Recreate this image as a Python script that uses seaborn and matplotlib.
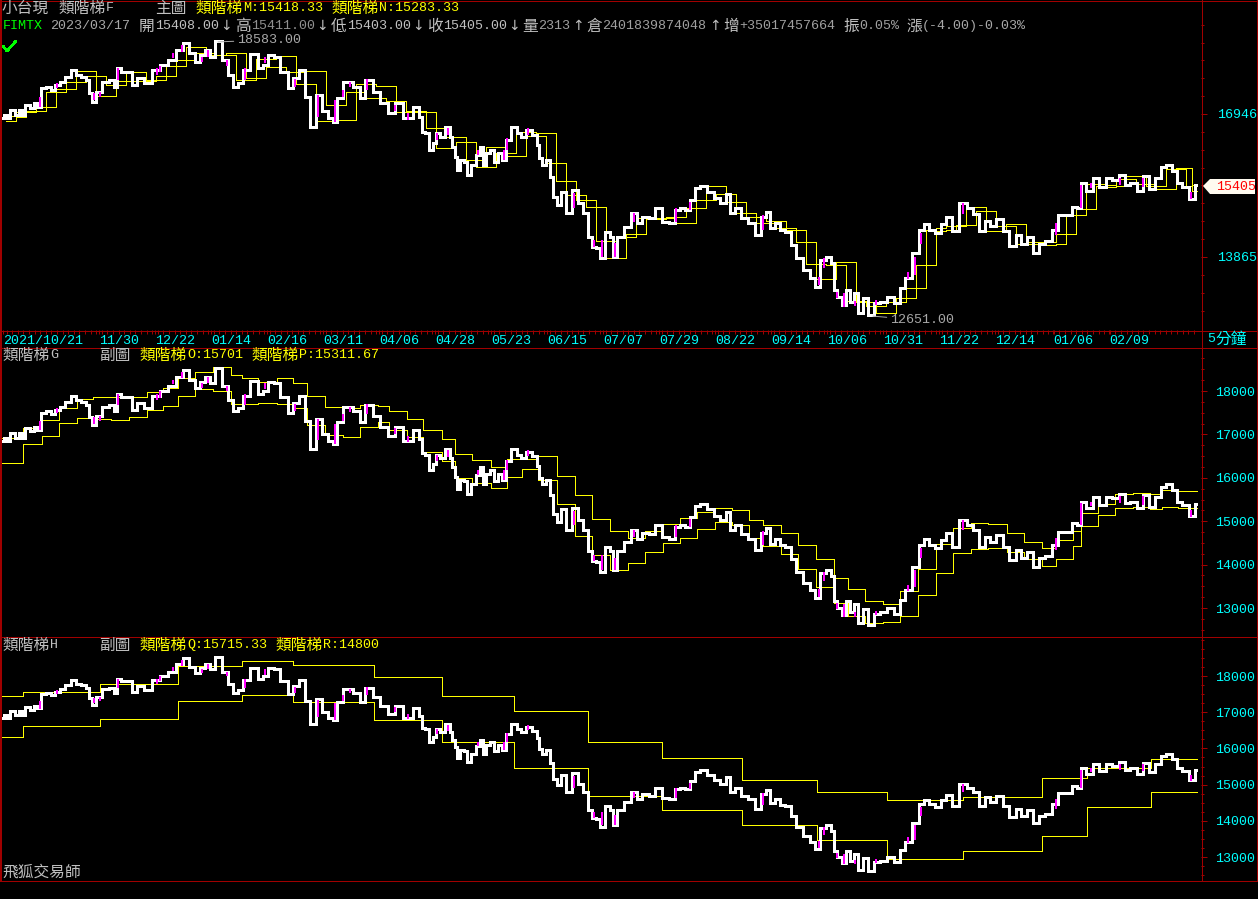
import matplotlib
matplotlib.use("Agg")
import matplotlib.pyplot as plt
import seaborn as sns
from matplotlib.lines import Line2D
from matplotlib.patches import Polygon
from matplotlib.ticker import FixedLocator

# ------------------------------------------------------------------ data
bar_x = [2,5,8,12,17,20,23,27,32,35,38,43,48,53,57,62,68,73,78,83,88,90,94,98,105,112,115,118,123,130,133,140,147,157,163,172,180,185,192,197,202,208,212,218,225,230,235,240,245,255,260,265,270,277,282,285,290,295,302,307,313,318,325,330,335,338,348,357,362,368,377,383,392,398,407,418,
420,423,427,431,434,437,442,448,451,453,456,458,462,465,469,473,478,482,484,488,491,496,500,504,507,515,518,523,528,535,538,540,543,548,551,555,559,563,568,575,580,585,590,594,598,602,607,612,614,620,627,635,638,645,652,658,665,673,
677,682,688,692,697,703,710,717,723,728,732,738,743,752,758,763,768,772,777,782,788,793,798,807,812,817,823,828,833,834,840,844,847,852,855,860,865,871,877,883,890,897,902,908,
915,922,925,932,938,943,948,955,963,970,975,982,987,992,1000,1005,1013,1018,1023,1030,1035,1042,1048,1055,1060,1070,1073,1080,1081,1090,1095,1103,1108,1115,1122,1127,1133,1140,1145,1152,1158,1163,1168,1175,1178,1185,1192,1197]
close = [16853,16925,16853,17033,16925,17033,16925,17140,17068,17176,17104,17499,17535,17464,17571,17643,17751,17895,17787,17751,17679,17392,17212,17428,17643,17679,17535,17930,17859,17859,17571,17715,17607,17895,18002,18110,18326,18484,18254,18074,18218,18326,18182,18527,18110,17787,17535,17607,17895,18232,17930,18002,18218,18182,17859,17859,17499,17715,17895,17320,16673,17355,17000,16853,16780,17284,17643,17535,17284,17679,17428,17176,16961,17176,16853,17104,
16889,16566,16530,16171,16314,16530,16458,16673,16458,16242,16027,15740,15955,15919,15632,15847,16063,16242,15847,16099,16171,15919,16099,15955,16386,16673,16530,16458,16601,16494,16278,15991,15847,15955,15596,15165,14985,15273,14806,15309,15021,14806,14303,14087,14052,13836,14411,14303,13872,14303,14518,14806,14590,14734,14698,14913,14626,14590,
14877,14913,14877,15092,15344,15401,15272,15128,15021,15222,14805,14913,14697,14590,14338,14733,14841,14482,14590,14446,14410,14123,13836,13584,13404,13225,13800,13871,13728,13153,13009,12830,13153,12902,13081,12650,12973,12614,12866,12902,13009,12866,13189,13404,
13953,14452,14583,14452,14375,14567,14721,14414,15028,14913,14798,14414,14644,14529,14682,14414,14106,14337,14145,14298,13953,14145,14199,14452,14759,14759,14951,14913,15450,15297,15566,15374,15566,15527,15627,15412,15450,15297,15604,15335,15566,15796,15857,15719,15450,15374,15120,15405]

pink_x = [40,57,94,100,118,157,160,173,182,202,208,227,245,265,295,318,335,343,350,367,395,408,437,448,478,504,507,528,574,594,602,615,634,676,690,763,819,824,837,844,855,876,908,915,921,963,1056,1081,1091,1120,1143,1191]
pink_low = [17100,17500,17250,17320,17680,17790,17850,18150,18290,18070,18180,17990,17680,18040,17530,16880,16780,17320,17520,17470,17000,16820,16390,16490,16063,15955,16170,16500,14913,14090,13872,13872,14626,14626,14877,14446,13261,13620,12980,12794,12800,12830,13400,13476,14145,14798,14337,14913,15350,15410,15370,15105]
pink_high = [17320,17610,17390,17430,17930,17930,17990,18260,18430,18180,18330,18110,17930,18180,17710,17350,17250,17470,17640,17710,17140,16960,16530,16640,16170,16170,16420,16640,15237,14230,14230,14160,14806,14913,15057,14770,13440,13840,13120,13081,12910,12940,13540,13871,14375,15028,14606,15412,15450,15570,15570,15260]

ladder_a_x = [6,16,26,36,46,56,66,76,86,96,106,116,126,136,146,156,166,176,186,196,206,216,226,236,246,256,266,276,286,296,306,316,326,336,346,356,366,376,386,396,406,416,426,436,446,456,466,476,486,496,506,516,526,536,546,556,566,576,586,596,606,616,626,636,646,656,666,676,686,696,706,716,726,736,746,756,766,776,786,796,806,816,826,836,846,856,866,876,886,896,906,916,926,936,946,956,966,976,986,996,1006,1016,1026,1036,1046,1056,1066,1076,1086,1096,1106,1116,1126,1136,1146,1156,1166,1176,1186,1192,1197]
ladder_m = [16900,16980,17000,17090,17420,17490,17640,17870,17870,17760,17580,17660,17860,17860,17680,17770,17990,18110,18400,18400,18250,18220,18270,18270,17720,18130,18130,18200,18200,17860,17880,17880,17150,17150,17430,17590,17590,17550,17550,17220,17020,17020,16980,16650,16460,16460,16350,15950,16240,16240,16100,16550,16550,16530,16530,15880,15500,15200,15100,14940,14200,14300,14370,14700,14700,14700,14720,14720,14910,15090,15390,15390,15230,15040,14810,14730,14650,14650,14480,14450,14180,13720,13700,13750,13750,12920,12900,12800,12900,12970,13190,13700,14450,14480,14530,14550,14950,14950,14860,14530,14570,14570,14180,14180,14180,14350,14760,14900,15430,15430,15420,15540,15620,15620,15440,15400,15750,15780,15780,15418,15418]
ladder_n = [16800,16880,16980,17000,17090,17420,17490,17640,17760,17330,17330,17580,17660,17660,17660,17680,17770,17990,18110,18250,18210,18210,18220,17680,17680,17720,17960,17960,17860,17600,17600,16800,16800,16820,16820,17430,17300,17300,17220,16980,16980,16980,16650,16220,16220,16350,15950,15800,15800,16100,16030,16030,16480,16480,15880,15500,15200,15100,14940,14200,13850,13850,14300,14370,14680,14680,14700,14590,14590,14910,15090,15230,15040,14810,14730,14590,14590,14480,14450,14180,13720,13400,13400,13700,12920,12900,12800,12650,12650,12900,12970,13190,13700,14420,14450,14530,14550,14860,14420,14420,14530,14150,14150,14150,14120,14145,14350,14760,14900,15400,15380,15400,15540,15440,15400,15335,15335,15750,15400,15283,15283]

ladder_b_x = [2,23,42,59,77,93,111,129,147,163,178,195,213,231,242,258,277,293,307,325,343,360,378,389,407,423,442,455,472,491,507,522,538,557,575,592,610,628,645,663,680,697,715,732,749,763,781,798,816,834,848,865,883,900,918,936,953,971,988,1007,1024,1042,1056,1073,1081,1098,1115,1133,1150,1162,1178,1197]
ladder_o = [16910,17140,17332,17601,17808,17854,17854,17854,17969,18062,18292,18446,18561,18369,18292,18215,18292,18192,17877,17624,17601,17678,17662,17539,17355,17094,16887,16541,16403,16242,16426,16426,16495,16034,15597,15044,14767,14614,14767,14928,15067,15220,15312,15251,15021,14905,14721,14445,14122,13684,13431,13154,13085,13384,13891,14467,14836,14951,14928,14721,14513,14375,14560,14775,15182,15389,15619,15642,15627,15719,15701,15701]
ladder_p = [16341,16779,16971,17255,17370,17355,17332,17393,17562,17662,17877,18046,17992,17701,17693,17716,17693,17616,17217,16986,16948,17163,17294,17102,16948,16603,16380,15988,15873,15758,16011,16196,15942,15389,14652,14214,13884,14030,14283,14491,14606,14813,14974,14905,14606,14421,14237,13892,13477,13108,12824,12647,12670,12808,13292,13799,14260,14360,14375,14283,14122,13960,14122,14437,14882,15136,15297,15320,15289,15320,15312,15312]

ladder_c_x = [2,23,100,178,242,293,374,442,514,588,662,742,817,887,963,1042,1087,1151,1197]
ladder_q = [17439,17549,17770,18276,18405,18294,17963,17438,17024,16167,15726,15118,14786,14565,14648,15173,15449,15715,15715]
ladder_r = [16306,16610,16803,17310,17466,17272,16775,16167,15449,14676,14289,13875,13461,12936,13157,13571,14391,14800,14800]

date_ticks = [3,99,155,211,267,323,379,435,491,547,603,659,715,771,827,883,939,995,1053,1109]
date_labels = ['2021/10/21','11/30','12/22','01/14','02/16','03/11','04/06','04/28','05/23','06/15','07/07','07/29','08/22','09/14','10/06','10/31','11/22','12/14','01/06','02/09']
price_ticks_top = [16946, 13865]
price_ticks_sub = [13000,14000,15000,16000,17000,18000]

# ------------------------------------------------------------------ style
W, H = 1258, 899
RED = '#a00000'
CYAN = '#00ffff'
YEL = '#ffff00'
GRAY = '#c0c0c0'
sns.set_theme(style='dark', rc={'axes.facecolor': 'black', 'figure.facecolor': 'black',
                                'lines.antialiased': False})
CJK = ['Noto Sans CJK TC', 'DejaVu Sans']
MONO = ['Liberation Mono', 'DejaVu Sans']
plt.rcParams['font.family'] = MONO

fig = plt.figure(figsize=(W/100, H/100), dpi=100, facecolor='black')

def make_ax(top, bottom):
    return fig.add_axes([1/W, 1-bottom/H, 1200/W, (bottom-top)/H])

ax1 = make_ax(1, 330)
ax2 = make_ax(347, 636)
ax3 = make_ax(636, 880)
limits = [(12291, 19381), (12355, 19014), (12365, 19105)]
ladders = [(ladder_a_x, ladder_m, ladder_n), (ladder_b_x, ladder_o, ladder_p), (ladder_c_x, ladder_q, ladder_r)]

for ax, lim, (lx, up, lo) in zip((ax1, ax2, ax3), limits, ladders):
    ax.set_facecolor('black')
    sns.lineplot(x=lx, y=up, ax=ax, color=YEL, linewidth=0.72, estimator=None, sort=False,
                 drawstyle='steps-post', legend=False)
    sns.lineplot(x=lx, y=lo, ax=ax, color=YEL, linewidth=0.72, estimator=None, sort=False,
                 drawstyle='steps-post', legend=False)
    sns.lineplot(x=bar_x, y=close, ax=ax, color='white', linewidth=2.16, estimator=None, sort=False,
                 legend=False, drawstyle='steps-mid', solid_joinstyle='miter', solid_capstyle='butt')
    ax.vlines(pink_x, pink_low, pink_high, color='#ff00ff', linewidth=1.44, antialiased=False, zorder=5)
    ax.set_xlim(1, 1201)
    ax.set_ylim(*lim)
    ax.set_xlabel('')
    ax.set_ylabel('')
    ax.grid(False)
    for s in ax.spines.values():
        s.set_visible(False)
    ax.yaxis.tick_right()
    ax.tick_params(axis='y', which='major', direction='out', colors=CYAN, color=RED,
                   length=4, width=0.72, pad=6, labelsize=9.6, right=True, left=False)
    ax.tick_params(axis='y', which='minor', direction='out', color=RED, length=2, width=0.72,
                   right=True, left=False)
    ax.tick_params(axis='x', which='both', bottom=False, top=False, labelbottom=False)

ax1.set_yticks(price_ticks_top)
ax1.tick_params(axis='y', which='major', pad=7.5)
ax1.yaxis.set_minor_locator(FixedLocator([13865 + 385.125*i for i in range(-3, 14)]))
for ax in (ax2, ax3):
    ax.set_yticks(price_ticks_sub)
    ax.yaxis.set_minor_locator(FixedLocator([12500 + 250*i for i in range(0, 27)]))

# date strip under the main panel
ax1.set_xticks(date_ticks)
ax1.set_xticklabels(date_labels, ha='left', family=MONO, fontsize=9.6, color=CYAN)
ax1.xaxis.set_minor_locator(FixedLocator([1 + 5.6*i for i in range(0, 214)]))
ax1.tick_params(axis='x', which='major', bottom=True, labelbottom=True, direction='out',
                color=RED, length=3, width=0.72, pad=0.5, labelsize=9.6, labelcolor=CYAN)
ax1.tick_params(axis='x', which='minor', bottom=True, direction='out', color=RED, length=3, width=0.72)

# frame lines
def fx(x): return x/W
def fy(y): return 1-y/H
for y in (0.5, 330.5, 347.5, 636.5, 880.5):
    fig.add_artist(Line2D([0, 1], [fy(y), fy(y)], color=RED, lw=0.72, transform=fig.transFigure, antialiased=False))
for x, w in ((0.5, 1.44), (1201.5, 0.72), (1256.5, 0.72)):
    fig.add_artist(Line2D([fx(x)]*2, [fy(0), fy(880)], color=RED, lw=w, transform=fig.transFigure, antialiased=False))

def field(x, y, cjk='', latin='', color=GRAY, latin_color=None):
    if cjk:
        fig.text(fx(x), fy(y), cjk, family=CJK, fontsize=11.3, color=color, va='center', ha='left')
    if latin:
        fig.text(fx(x + 16*len(cjk)), fy(y), latin, family=MONO, fontsize=9.6,
                 color=latin_color or color, va='center', ha='left')

# header rows
field(2, 8, '小台現')
field(58, 8, '類階梯', 'F')
field(155, 8, '主圖')
field(195, 8, '類階梯', 'M:15418.33', YEL)
field(331, 8, '類階梯', 'N:15283.33', YEL)
field(3, 26, '', 'FIMTX', '#00ff00')
field(50, 26, '', '2023/03/17', '#a8a8a8')
field(139, 26, '開', '15408.00')
field(235, 26, '高', '15411.00', GRAY, '#909090')
field(331, 26, '低', '15403.00')
field(427, 26, '收', '15405.00')
field(522, 26, '量', '2313', GRAY, '#a0a0a0')
field(586, 26, '倉', '2401839874048', GRAY, '#a0a0a0')
field(723, 26, '增', '+35017457664', GRAY, '#a0a0a0')
field(843, 26, '振', '0.05%', GRAY, '#a0a0a0')
field(906, 26, '漲', '(-4.00)-0.03%', GRAY, '#a8a8a8')
for ax_x, ch in ((226, '↓'), (322, '↓'), (418, '↓'), (514, '↓'), (578, '↑'), (715, '↑')):
    fig.text(fx(ax_x), fy(26), ch, family=['DejaVu Sans'], fontsize=10, color=GRAY, va='center', ha='center')
fig.add_artist(Line2D([fx(3), fx(7), fx(16)], [fy(46), fy(51), fy(41)], color='#00ff00', lw=1.2,
                      transform=fig.transFigure, antialiased=False))

field(2, 355, '類階梯', 'G')
field(99, 355, '副圖')
field(139, 355, '類階梯', 'O:15701', YEL)
field(251, 355, '類階梯', 'P:15311.67', YEL)
field(2, 645, '類階梯', 'H')
field(99, 645, '副圖')
field(139, 645, '類階梯', 'Q:15715.33', YEL)
field(275, 645, '類階梯', 'R:14800', YEL)
field(2, 872, '飛狐交易師')
field(1207, 339, '', '5', CYAN)
field(1215, 339, '分鐘', '', CYAN)

# high / low notes
ax1.annotate('18583.00', xy=(218, 18500), xytext=(237, 18541), family=MONO, fontsize=9.6, color='#a8a8a8',
             va='center', ha='left', arrowprops=dict(arrowstyle='-', color='#a8a8a8', lw=0.7, shrinkA=0, shrinkB=0))
ax1.annotate('12651.00', xy=(873, 12590), xytext=(890, 12500), family=MONO, fontsize=9.6, color='#a8a8a8',
             va='center', ha='left', arrowprops=dict(arrowstyle='-', color='#a8a8a8', lw=0.7, shrinkA=0, shrinkB=0))

# last price tag
tag = [(1203, 186), (1210, 179), (1255, 179), (1255, 194), (1210, 194)]
fig.add_artist(Polygon([(fx(a), fy(b)) for a, b in tag], closed=True, fc='#fffbf0', ec='none', transform=fig.transFigure))
fig.text(fx(1216), fy(186.5), '15405', family=MONO, fontsize=9.6, color='#ff0000', va='center', ha='left')

fig.savefig('out.png', dpi=100, facecolor='black')
